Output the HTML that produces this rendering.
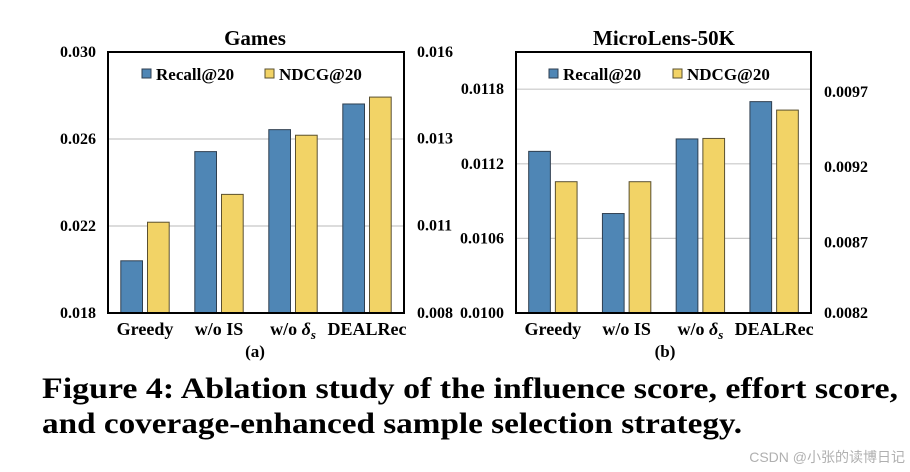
<!DOCTYPE html>
<html><head><meta charset="utf-8"><style>
html,body{margin:0;padding:0;background:#fff;}
svg{display:block;font-family:"Liberation Serif",serif;}
</style></head><body>
<svg id="c" width="910" height="472" viewBox="0 0 910 472">
<text x="255" y="45" text-anchor="middle" font-size="21" font-weight="bold">Games</text>
<text x="664" y="45" text-anchor="middle" font-size="21" font-weight="bold">MicroLens-50K</text>
<g id="ga"></g>
<g id="gb"></g>
<text x="255" y="357" text-anchor="middle" font-size="17" font-weight="bold">(a)</text>
<text x="665" y="357" text-anchor="middle" font-size="17" font-weight="bold">(b)</text>
<text x="42" y="398" font-size="30" font-weight="bold" textLength="856" lengthAdjust="spacingAndGlyphs">Figure 4: Ablation study of the influence score, effort score,</text>
<text x="42" y="433" font-size="30" font-weight="bold" textLength="700" lengthAdjust="spacingAndGlyphs">and coverage-enhanced sample selection strategy.</text>
<text x="905" y="462" text-anchor="end" font-size="14" fill="#b0b0b0" style="font-family:'Liberation Sans','Noto Sans CJK SC',sans-serif">CSDN @小张的读博日记</text>
</svg>
<script>
const categories = ["Greedy","w/o IS","w/o δs","DEALRec"];
const gamesRecall = [0.0204,0.02542,0.02643,0.02761];
const gamesNdcg = [0.01108,0.01172,0.01312,0.01444];
const gamesLeftTicks = [0.018,0.022,0.026,0.030];
const gamesRightTicks = [0.008,0.011,0.013,0.016];
const mlRecall = [0.0113,0.0108,0.0114,0.0117];
const mlNdcg = [0.00908,0.00908,0.00937,0.00956];
const mlLeftTicks = [0.0100,0.0106,0.0112,0.0118];
const mlRightTicks = [0.0082,0.0087,0.0092,0.0097];
const NS="http://www.w3.org/2000/svg";
function mk(p,t,a,txt){const e=document.createElementNS(NS,t);for(const k in a)e.setAttribute(k,a[k]);if(txt!=null)e.textContent=txt;p.appendChild(e);return e;}
function piece(ticks,pos){return v=>{for(let i=0;i<ticks.length-1;i++){if(v<=ticks[i+1]||i==ticks.length-2){const t=(v-ticks[i])/(ticks[i+1]-ticks[i]);return pos[i]+t*(pos[i+1]-pos[i]);}}};}
function draw(g,cfg){
  const {x0,x1,y0,y1}=cfg;
  cfg.gridVals.forEach(v=>{const y=cfg.yL(v);
    const l=mk(g,'line',{x1:x0,x2:x1,y1:y,y2:y,stroke:'#c8c8c8','stroke-width':1.2});
    
    });
  cfg.leftTicks.forEach((v,i)=>{const t=mk(g,'text',{x:x0-12,y:cfg.yL(v)+5+(cfg.lOff?cfg.lOff[i]:0),'text-anchor':'end','font-size':16,'font-weight':'bold'},v.toFixed(cfg.dl));
    
    });
  cfg.rightTicks.forEach((v,i)=>{const t=mk(g,'text',{x:x1+13,y:cfg.yR(v)+5+(cfg.rOff?cfg.rOff[i]:0),'font-size':16,'font-weight':'bold'},v.toFixed(cfg.dr));
    
    });
  const band=(x1-x0)/categories.length, bw=21.7, gap=5;
  categories.forEach((c,i)=>{
    const cx=x0+band*(i+0.5);
    const yr=cfg.yL(cfg.recall[i]);
    const b1=mk(g,'rect',{x:cx-gap/2-bw,y:yr,width:bw,height:y1-yr,fill:'#4f86b5',stroke:'#2f3f50','stroke-width':1});
    
    
    const yn=cfg.yR(cfg.ndcg[i]);
    const b2=mk(g,'rect',{x:cx+gap/2,y:yn,width:bw,height:y1-yn,fill:'#f2d366',stroke:'#5a5030','stroke-width':1});
    
    
    let lab;
    if(c==="w/o δs"){lab=mk(g,'text',{x:cx,y:335,'text-anchor':'middle','font-size':18,'font-weight':'bold'});
      mk(lab,'tspan',{},'w/o ');mk(lab,'tspan',{'font-style':'italic'},'δ');mk(lab,'tspan',{'font-style':'italic','font-size':13,dy:4},'s');}
    else lab=mk(g,'text',{x:cx,y:335,'text-anchor':'middle','font-size':18,'font-weight':'bold'},c);
    
    
  });
  const box=mk(g,'rect',{x:x0,y:y0,width:x1-x0,height:y1-y0,fill:'none',stroke:'#000','stroke-width':2});
  
  
  const L=cfg.leg;
  const s1=mk(g,'rect',{x:L[0],y:69,width:9,height:9,fill:'#4f86b5',stroke:'#2f3f50'});
  
  
  const t1=mk(g,'text',{x:L[0]+14,y:80,'font-size':17,'font-weight':'bold'},'Recall@20');
  
  
  const s2=mk(g,'rect',{x:L[1],y:69,width:9,height:9,fill:'#f2d366',stroke:'#5a5030'});
  
  
  const t2=mk(g,'text',{x:L[1]+14,y:80,'font-size':17,'font-weight':'bold'},'NDCG@20');
  
  
}
const yA=v=>313-(v-0.018)/0.012*261;
draw(document.getElementById('ga'),{x0:108,x1:404,y0:52,y1:313,yL:yA,
  yR:piece(gamesRightTicks,[313,225.7,138.7,52]),gridVals:[0.022,0.026],
  leftTicks:gamesLeftTicks,rightTicks:gamesRightTicks,dl:3,dr:3,recall:gamesRecall,ndcg:gamesNdcg,leg:[142,265]});
const yB=v=>313-(v-0.0100)/0.0006*74.6;
const yBR=v=>313-(v-0.0082)/0.0005*74.6;
draw(document.getElementById('gb'),{x0:516,x1:811,y0:52,y1:313,yL:yB,yR:yBR,gridVals:[0.0106,0.0112,0.0118],
  leftTicks:mlLeftTicks,rightTicks:mlRightTicks,dl:4,dr:4,recall:mlRecall,ndcg:mlNdcg,leg:[549,673],rOff:[0,4,3,3]});
</script>
</body></html>
